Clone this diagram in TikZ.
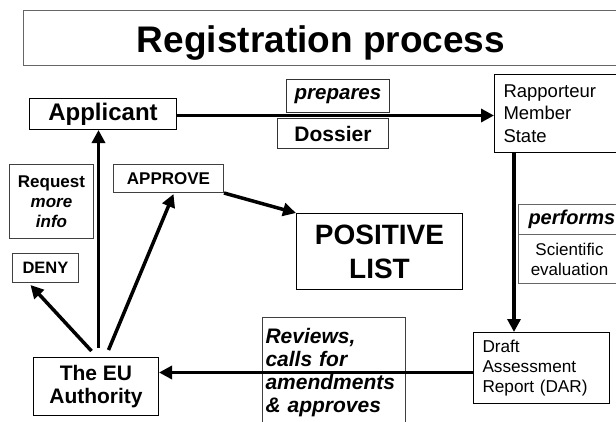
\documentclass[tikz,border=0pt]{standalone}
\usepackage{fontspec}
\setmainfont{Liberation Sans}
\usetikzlibrary{arrows.meta}
\begin{document}
\begin{tikzpicture}[x=1pt,y=-1pt,
  box/.style={draw=black, line width=1pt, fill=white, inner sep=0pt, anchor=north west, align=center},
  gbox/.style={box, draw=black!60},
  arr/.style={line width=3.5pt, -{Triangle[length=13pt,width=13pt]}},
  fs/.style={font=\fontsize{#1}{#1}\selectfont}
]
\useasboundingbox (0,0) rectangle (616,421);
% title
\node[gbox, minimum width=610pt, minimum height=55pt] (titlebox) at (23,10) {};
\node[anchor=base, inner sep=0pt, font=\fontsize{37}{40}\selectfont\bfseries] (title) at (321,52) {Registration process};
% boxes
\node[box, minimum width=147pt, minimum height=31pt, font=\fontsize{24}{26}\selectfont\bfseries] (app) at (29,98) {Applicant};
\node[gbox, draw=black!80, minimum width=103pt, minimum height=33pt, font=\fontsize{20.5}{22}\selectfont\bfseries\itshape] (prep) at (286,79) {prepares};
\node[gbox, draw=black!80, minimum width=111pt, minimum height=30pt, font=\fontsize{21}{22}\selectfont\bfseries] (doss) at (277,118) {Dossier};
\node[box, minimum width=130pt, minimum height=78pt, text width=112pt, inner xsep=9pt, align=left, font=\fontsize{18.5}{22.5}\selectfont] (rap) at (494,74) {Rapporteur\\Member\\State};
\node[gbox, minimum width=112pt, minimum height=30pt, text width=92pt, inner xsep=10pt, align=left, font=\fontsize{20}{22}\selectfont\bfseries\itshape] (perf) at (518,204) {performs};
\node[gbox, minimum width=102pt, minimum height=49pt, font=\fontsize{17}{20}\selectfont] (sci) at (518,234) {Scientific\\evaluation};
\node[box, minimum width=166pt, minimum height=76pt, font=\fontsize{28}{34}\selectfont\bfseries] (pos) at (296,213) {POSITIVE\\LIST};
\node[box, minimum width=136pt, minimum height=71pt, text width=118pt, inner xsep=9pt, align=left, font=\fontsize{17.2}{20}\selectfont] (draft) at (473,332) {Draft\\Assessment\\Report (DAR)};
\node[gbox, draw=black!75, text width=137pt, inner xsep=3pt, inner ysep=11pt, align=left, font=\fontsize{21}{23}\selectfont\bfseries\itshape] (rev) at (262,317) {Reviews,\\calls for\\amendments\\\& approves};
\node[box, minimum width=125pt, minimum height=58pt, font=\fontsize{21}{23}\selectfont\bfseries] (eu) at (33,357) {The EU\\Authority};
\node[gbox, draw=black!75, minimum width=84pt, minimum height=74pt, font=\fontsize{17}{20}\selectfont\bfseries] (req) at (9,164) {Request\\\itshape more\\\itshape info};
\node[gbox, draw=black!75, minimum width=66pt, minimum height=29pt, font=\fontsize{16.5}{18}\selectfont\bfseries] (deny) at (12,253) {DENY};
\node[gbox, draw=black!75, minimum width=110pt, minimum height=28pt, font=\fontsize{17}{18}\selectfont\bfseries] (appr) at (113,164) {APPROVE};
% connectors
\draw[arr] ([yshift=-1.5pt]app.east) -- ([yshift=-1.5pt]app.east -| rap.west);
\coordinate (rapout) at ([xshift=20pt]rap.south west);
\draw[arr] (rapout) -- (rapout |- draft.north);
\coordinate (draftout) at ([yshift=-4.5pt]draft.west);
\draw[arr] (draftout) -- (draftout -| eu.east);
\coordinate (euup) at ([xshift=2.5pt,yshift=9pt]eu.north);
\draw[arr] (euup) -- (euup |- app.south);
\draw[arr] ([xshift=-4.5pt,yshift=6pt]eu.north) -- ([xshift=-15pt,yshift=-2pt]deny.south);
\draw[arr] ([xshift=12.5pt,yshift=7pt]eu.north) -- ([xshift=5pt,yshift=-1pt]appr.south);
\draw[arr] (appr.south east) -- (pos.north west);
\end{tikzpicture}
\end{document}
